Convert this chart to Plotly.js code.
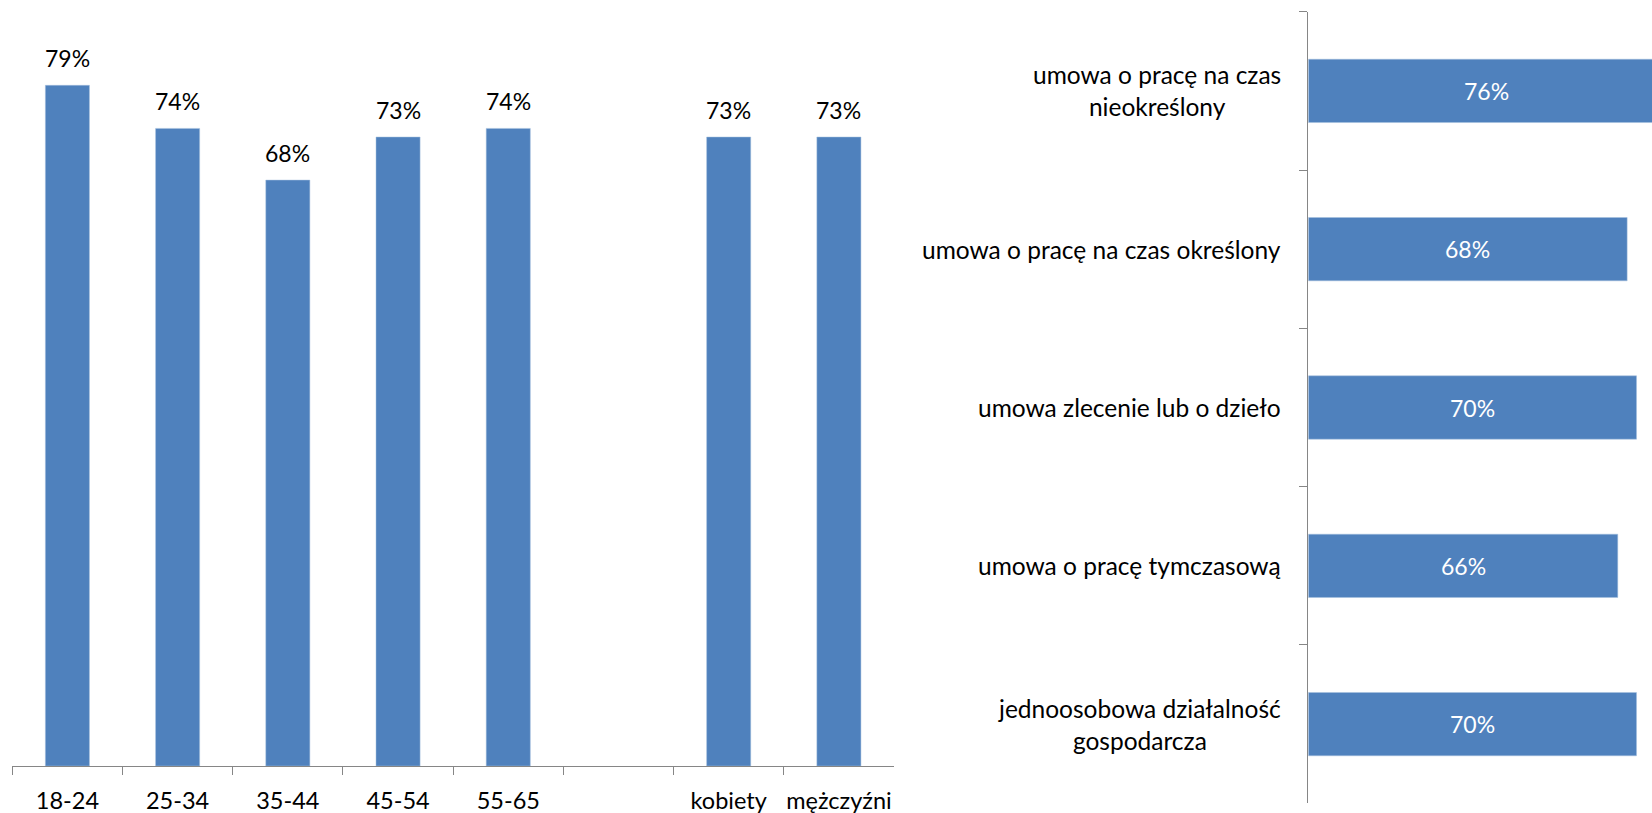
<!DOCTYPE html>
<html>
<head>
<meta charset="utf-8">
<script src="https://cdn.plot.ly/plotly-3.0.1.min.js"></script>
<style>html,body{margin:0;padding:0;background:#fff;}#chart{width:1652px;height:813px;}</style>
</head>
<body>
<div id="chart"></div>
<script>
// Left chart: groups
const leftCategories = ['18-24', '25-34', '35-44', '45-54', '55-65', ' ', 'kobiety', 'mężczyźni'];
const leftValues = [79, 74, 68, 73, 74, null, 73, 73];

// Right chart: contract types
const rightCategories = [
  'umowa o pracę na czas<br>nieokreślony',
  'umowa o pracę na czas określony',
  'umowa zlecenie lub o dzieło',
  'umowa o pracę tymczasową',
  'jednoosobowa działalność<br>gospodarcza'
];
const rightValues = [76, 68, 70, 66, 70];

const BAR = '#4F81BD';
const AXIS = '#868686';
const FONT = 'Lato, Carlito, "Open Sans", sans-serif';

const traces = [
  {
    type: 'bar', x: leftCategories, y: leftValues,
    xaxis: 'x', yaxis: 'y',
    marker: {color: BAR, line: {color: '#A7C0DE', width: 0.5}},
    hoverinfo: 'none'
  },
  {
    type: 'bar', orientation: 'h', x: rightValues, y: rightCategories,
    xaxis: 'x2', yaxis: 'y2',
    marker: {color: BAR, line: {color: '#A7C0DE', width: 0.5}},
    cliponaxis: true,
    hoverinfo: 'none'
  }
];

const annotations = [];
leftCategories.forEach((c, i) => {
  if (leftValues[i] == null) return;
  annotations.push({
    x: c, y: leftValues[i], xref: 'x', yref: 'y',
    text: leftValues[i] + '%', showarrow: false,
    xanchor: 'center', yanchor: 'middle', yshift: 27,
    font: {family: FONT, size: 23, color: '#000'}
  });
});
rightCategories.forEach((c, i) => {
  annotations.push({
    x: rightValues[i] / 2, y: c, xref: 'x2', yref: 'y2',
    text: rightValues[i] + '%', showarrow: false,
    xanchor: 'center', yanchor: 'middle',
    font: {family: FONT, size: 23, color: '#fff'}
  });
  annotations.push({
    x: 0, y: c, xref: 'x2 domain', yref: 'y2',
    text: c, showarrow: false, align: 'center',
    xanchor: 'right', yanchor: 'middle', xshift: -25,
    font: {family: FONT, size: 24.5, color: '#000'}
  });
});

const layout = {
  width: 1652, height: 813,
  margin: {l: 0, r: 0, t: 0, b: 0, pad: 0},
  paper_bgcolor: '#fff', plot_bgcolor: 'rgba(0,0,0,0)',
  showlegend: false,
  bargap: 0.6,
  font: {family: FONT, size: 23, color: '#000'},
  xaxis: {
    domain: [12.3 / 1652, 894 / 1652],
    type: 'category', categoryorder: 'array', categoryarray: leftCategories,
    showline: true, linecolor: AXIS, linewidth: 1,
    ticks: 'outside', tickson: 'boundaries', ticklen: 8, tickcolor: AXIS, tickwidth: 1,
    ticklabelstandoff: 14, tickangle: 0, automargin: false,
    showgrid: false, zeroline: false,
    tickfont: {family: FONT, size: 23.5, color: '#000'},
    fixedrange: true
  },
  yaxis: {
    domain: [(813 - 766) / 813, 1],
    range: [0, 88.9], visible: false, fixedrange: true
  },
  xaxis2: {
    domain: [1308.3 / 1652, 1], anchor: 'y2',
    range: [0, 73.3], visible: false, fixedrange: true
  },
  yaxis2: {
    domain: [1 - 803.3 / 813, 1 - 11.7 / 813], anchor: 'x2',
    type: 'category', categoryorder: 'array', categoryarray: rightCategories,
    autorange: 'reversed',
    showline: true, linecolor: AXIS, linewidth: 1,
    ticks: 'outside', tickson: 'boundaries', ticklen: 8, tickcolor: AXIS, tickwidth: 1,
    showticklabels: false, showgrid: false, zeroline: false,
    fixedrange: true
  },
  annotations: annotations
};

Plotly.newPlot('chart', traces, layout, {displayModeBar: false, staticPlot: true});
</script>
</body>
</html>
